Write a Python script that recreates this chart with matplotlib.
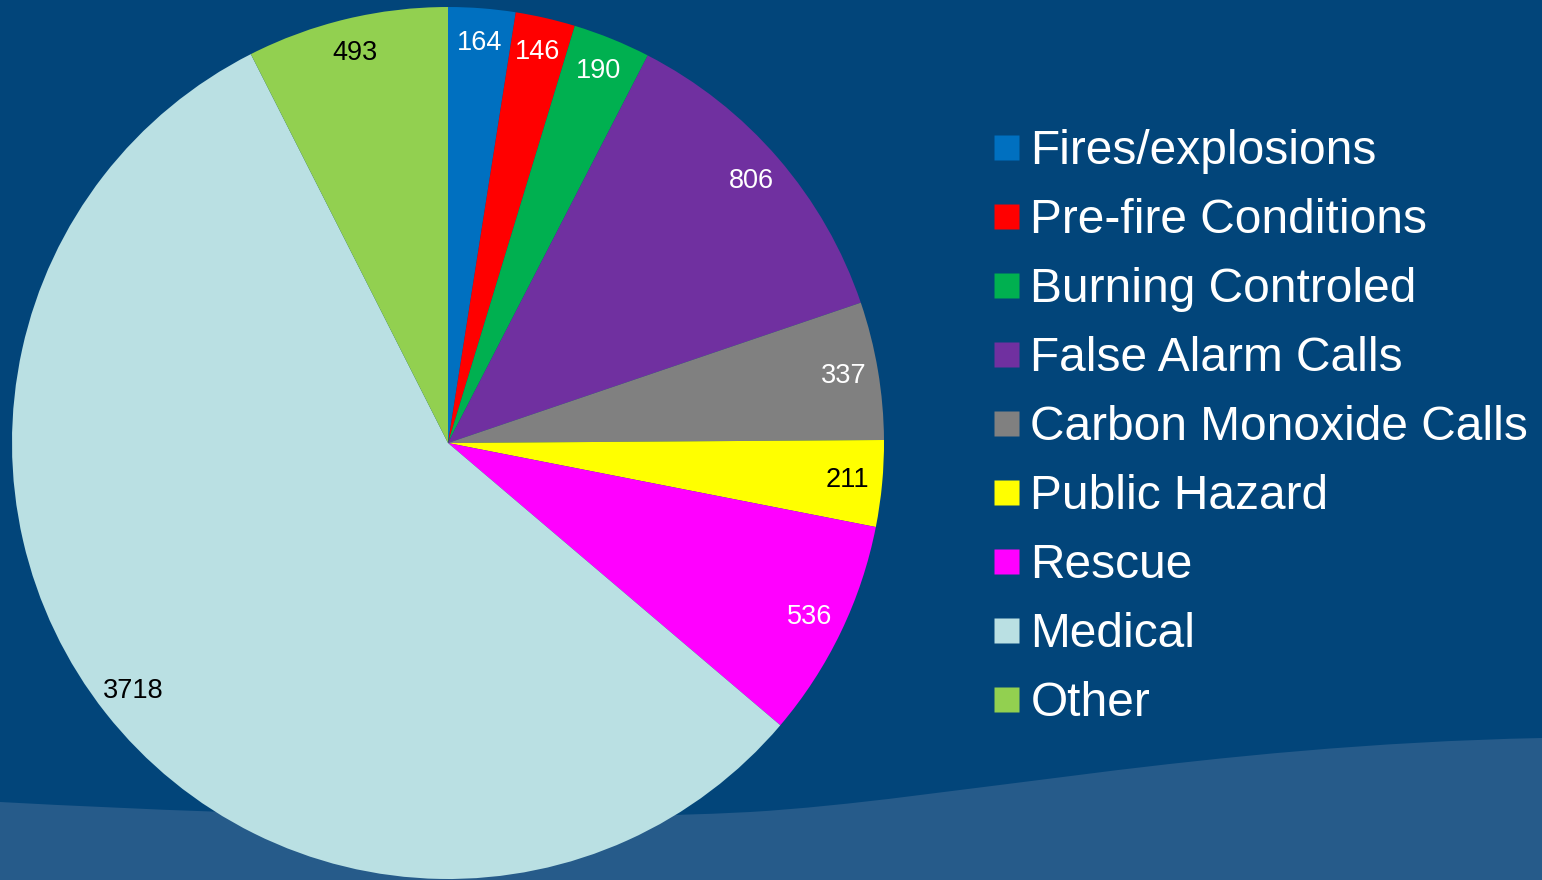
import matplotlib
matplotlib.use("Agg")
import matplotlib.pyplot as plt
from matplotlib.lines import Line2D
from matplotlib.path import Path
from matplotlib.patches import PathPatch

plt.rcParams['font.family'] = ['Liberation Sans', 'DejaVu Sans']

# data
categories = ["Fires/explosions", "Pre-fire Conditions", "Burning Controled",
              "False Alarm Calls", "Carbon Monoxide Calls", "Public Hazard",
              "Rescue", "Medical", "Other"]
counts = [164, 146, 190, 806, 337, 211, 536, 3718, 493]
colors = ["#0070C0", "#FF0000", "#00B050", "#7030A0", "#808080",
          "#FFFF00", "#FF00FF", "#BAE0E3", "#92D050"]
label_colors = ["white", "white", "white", "white", "white",
                "black", "white", "black", "black"]

bg = "#02457A"
wave = "#265B8A"

W, H = 1542, 880
fig = plt.figure(figsize=(W / 100, H / 100), dpi=100)
fig.patch.set_facecolor(bg)

# lighter wave at the bottom of the slide
verts = [(0, 802), (300, 818), (550, 822), (750, 812),
         (950, 800), (1200, 745), (1542, 738),
         (1542, 880), (0, 880), (0, 802)]
codes = [Path.MOVETO, Path.CURVE4, Path.CURVE4, Path.CURVE4,
         Path.CURVE4, Path.CURVE4, Path.CURVE4,
         Path.LINETO, Path.LINETO, Path.CLOSEPOLY]
verts = [(x / W, 1 - y / H) for x, y in verts]
fig.patches.append(PathPatch(Path(verts, codes), transform=fig.transFigure,
                             facecolor=wave, edgecolor="none", zorder=-1))

# pie: center (448, 443) px, radius 436 px
r = 436
ax = fig.add_axes([(448 - r) / W, (H - 443 - r) / H, 2 * r / W, 2 * r / H])
ax.set_facecolor("none")
ax.set_zorder(2)

wedges, texts = ax.pie(counts, colors=colors, startangle=90, counterclock=False,
                       labels=[str(c) for c in counts], labeldistance=0.92,
                       wedgeprops=dict(linewidth=0, edgecolor="none"))
for t, c in zip(texts, label_colors):
    t.set_color(c)
    t.set_fontsize(19.5)
    t.set_ha("center")
    t.set_va("center")
ax.set_xlim(-1, 1)
ax.set_ylim(-1, 1)
ax.set_aspect("equal")

handles = [Line2D([], [], marker="s", markersize=18, linestyle="none",
                  markerfacecolor=c, markeredgecolor="none") for c in colors]
leg = fig.legend(handles, categories, loc="upper left",
                 bbox_to_anchor=(993 / W, 1 - 129 / H), frameon=False,
                 fontsize=34.5, labelcolor="white", borderpad=0, borderaxespad=0,
                 handlelength=0.55, handletextpad=0.23, labelspacing=0.50)

plt.savefig("out.png", dpi=100, facecolor=bg)
